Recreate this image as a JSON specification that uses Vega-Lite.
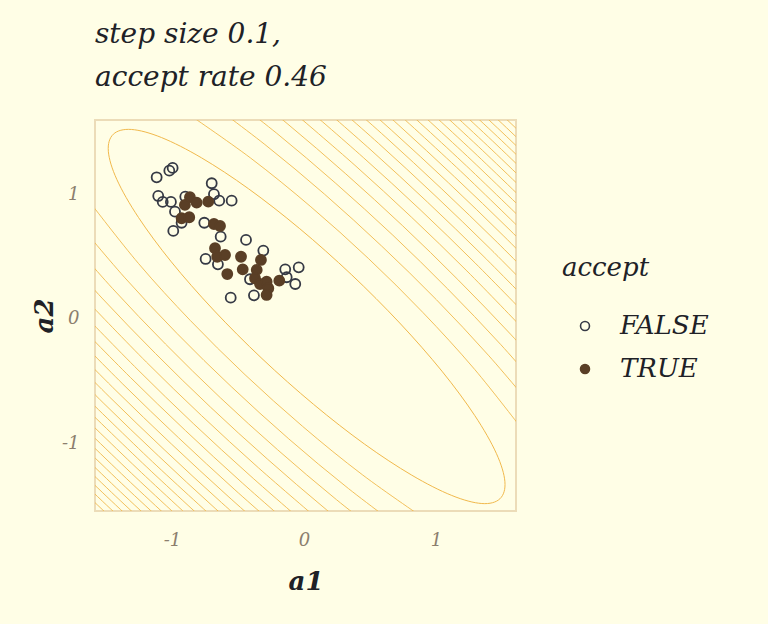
{
  "$schema": "https://vega.github.io/schema/vega-lite/v6.json",
  "autosize": "none",
  "width": 421,
  "height": 391,
  "padding": {"left": 95, "top": 120, "right": 252, "bottom": 113},
  "background": "#fffee6",
  "title": {
    "text": ["step size 0.1,", "accept rate 0.46"],
    "anchor": "start",
    "frame": "group",
    "baseline": "bottom",
    "offset": 0,
    "lineHeight": 43,
    "font": "DejaVu Serif",
    "fontStyle": "italic",
    "fontWeight": "normal",
    "fontSize": 28,
    "color": "#202126"
  },
  "datasets": {
    "contours": [
      {"c":"2u","a1":-0.890,"a2":1.656},{"c":"2u","a1":-0.405,"a2":1.293},{"c":"2u","a1":0.052,"a2":0.901},{"c":"2u","a1":0.487,"a2":0.487},{"c":"2u","a1":0.901,"a2":0.052},{"c":"2u","a1":1.293,"a2":-0.405},{"c":"2u","a1":1.656,"a2":-0.890},
      {"c":"2l","a1":-1.616,"a2":0.930},{"c":"2l","a1":-1.253,"a2":0.445},{"c":"2l","a1":-0.861,"a2":-0.012},{"c":"2l","a1":-0.447,"a2":-0.447},{"c":"2l","a1":-0.012,"a2":-0.861},{"c":"2l","a1":0.445,"a2":-1.253},{"c":"2l","a1":0.930,"a2":-1.616},
      {"c":"3u","a1":-0.767,"a2":1.778},{"c":"3u","a1":-0.296,"a2":1.401},{"c":"3u","a1":0.155,"a2":1.003},{"c":"3u","a1":0.587,"a2":0.587},{"c":"3u","a1":1.003,"a2":0.155},{"c":"3u","a1":1.401,"a2":-0.296},{"c":"3u","a1":1.778,"a2":-0.767},
      {"c":"3l","a1":-1.738,"a2":0.807},{"c":"3l","a1":-1.361,"a2":0.336},{"c":"3l","a1":-0.963,"a2":-0.115},{"c":"3l","a1":-0.547,"a2":-0.547},{"c":"3l","a1":-0.115,"a2":-0.963},{"c":"3l","a1":0.336,"a2":-1.361},{"c":"3l","a1":0.807,"a2":-1.738},
      {"c":"4u","a1":-0.670,"a2":1.875},{"c":"4u","a1":-0.206,"a2":1.491},{"c":"4u","a1":0.241,"a2":1.089},{"c":"4u","a1":0.673,"a2":0.673},{"c":"4u","a1":1.089,"a2":0.241},{"c":"4u","a1":1.491,"a2":-0.206},{"c":"4u","a1":1.875,"a2":-0.670},
      {"c":"4l","a1":-1.835,"a2":0.710},{"c":"4l","a1":-1.451,"a2":0.246},{"c":"4l","a1":-1.049,"a2":-0.201},{"c":"4l","a1":-0.633,"a2":-0.633},{"c":"4l","a1":-0.201,"a2":-1.049},{"c":"4l","a1":0.246,"a2":-1.451},{"c":"4l","a1":0.710,"a2":-1.835},
      {"c":"5u","a1":-0.587,"a2":1.959},{"c":"5u","a1":-0.128,"a2":1.570},{"c":"5u","a1":0.317,"a2":1.165},{"c":"5u","a1":0.748,"a2":0.748},{"c":"5u","a1":1.165,"a2":0.317},{"c":"5u","a1":1.570,"a2":-0.128},{"c":"5u","a1":1.959,"a2":-0.587},
      {"c":"5l","a1":-1.919,"a2":0.627},{"c":"5l","a1":-1.530,"a2":0.168},{"c":"5l","a1":-1.125,"a2":-0.277},{"c":"5l","a1":-0.708,"a2":-0.708},{"c":"5l","a1":-0.277,"a2":-1.125},{"c":"5l","a1":0.168,"a2":-1.530},{"c":"5l","a1":0.627,"a2":-1.919},
      {"c":"6u","a1":-0.057,"a2":1.640},{"c":"6u","a1":0.386,"a2":1.234},{"c":"6u","a1":0.816,"a2":0.816},{"c":"6u","a1":1.234,"a2":0.386},{"c":"6u","a1":1.640,"a2":-0.057},
      {"c":"6l","a1":-1.600,"a2":0.097},{"c":"6l","a1":-1.194,"a2":-0.346},{"c":"6l","a1":-0.776,"a2":-0.776},{"c":"6l","a1":-0.346,"a2":-1.194},{"c":"6l","a1":0.097,"a2":-1.600},
      {"c":"7u","a1":0.008,"a2":1.705},{"c":"7u","a1":0.449,"a2":1.297},{"c":"7u","a1":0.879,"a2":0.879},{"c":"7u","a1":1.297,"a2":0.449},{"c":"7u","a1":1.705,"a2":0.008},
      {"c":"7l","a1":-1.665,"a2":0.032},{"c":"7l","a1":-1.257,"a2":-0.409},{"c":"7l","a1":-0.839,"a2":-0.839},{"c":"7l","a1":-0.409,"a2":-1.257},{"c":"7l","a1":0.032,"a2":-1.665},
      {"c":"8u","a1":0.068,"a2":1.765},{"c":"8u","a1":0.508,"a2":1.356},{"c":"8u","a1":0.937,"a2":0.937},{"c":"8u","a1":1.356,"a2":0.508},{"c":"8u","a1":1.765,"a2":0.068},
      {"c":"8l","a1":-1.725,"a2":-0.028},{"c":"8l","a1":-1.316,"a2":-0.468},{"c":"8l","a1":-0.897,"a2":-0.897},{"c":"8l","a1":-0.468,"a2":-1.316},{"c":"8l","a1":-0.028,"a2":-1.725},
      {"c":"9u","a1":0.124,"a2":1.821},{"c":"9u","a1":0.563,"a2":1.412},{"c":"9u","a1":0.992,"a2":0.992},{"c":"9u","a1":1.412,"a2":0.563},{"c":"9u","a1":1.821,"a2":0.124},
      {"c":"9l","a1":-1.781,"a2":-0.084},{"c":"9l","a1":-1.372,"a2":-0.523},{"c":"9l","a1":-0.952,"a2":-0.952},{"c":"9l","a1":-0.523,"a2":-1.372},{"c":"9l","a1":-0.084,"a2":-1.781},
      {"c":"10u","a1":0.177,"a2":1.874},{"c":"10u","a1":0.615,"a2":1.464},{"c":"10u","a1":1.044,"a2":1.044},{"c":"10u","a1":1.464,"a2":0.615},{"c":"10u","a1":1.874,"a2":0.177},
      {"c":"10l","a1":-1.834,"a2":-0.137},{"c":"10l","a1":-1.424,"a2":-0.575},{"c":"10l","a1":-1.004,"a2":-1.004},{"c":"10l","a1":-0.575,"a2":-1.424},{"c":"10l","a1":-0.137,"a2":-1.834},
      {"c":"11u","a1":0.227,"a2":1.924},{"c":"11u","a1":0.665,"a2":1.514},{"c":"11u","a1":1.094,"a2":1.094},{"c":"11u","a1":1.514,"a2":0.665},{"c":"11u","a1":1.924,"a2":0.227},
      {"c":"11l","a1":-1.884,"a2":-0.187},{"c":"11l","a1":-1.474,"a2":-0.625},{"c":"11l","a1":-1.054,"a2":-1.054},{"c":"11l","a1":-0.625,"a2":-1.474},{"c":"11l","a1":-0.187,"a2":-1.884},
      {"c":"12u","a1":0.275,"a2":1.972},{"c":"12u","a1":0.713,"a2":1.561},{"c":"12u","a1":1.141,"a2":1.141},{"c":"12u","a1":1.561,"a2":0.713},{"c":"12u","a1":1.972,"a2":0.275},
      {"c":"12l","a1":-1.932,"a2":-0.235},{"c":"12l","a1":-1.521,"a2":-0.673},{"c":"12l","a1":-1.101,"a2":-1.101},{"c":"12l","a1":-0.673,"a2":-1.521},{"c":"12l","a1":-0.235,"a2":-1.932},
      {"c":"13u","a1":0.686,"a2":1.676},{"c":"13u","a1":1.187,"a2":1.187},{"c":"13u","a1":1.676,"a2":0.686},
      {"c":"13l","a1":-1.636,"a2":-0.646},{"c":"13l","a1":-1.147,"a2":-1.147},{"c":"13l","a1":-0.646,"a2":-1.636},
      {"c":"14u","a1":0.730,"a2":1.720},{"c":"14u","a1":1.230,"a2":1.230},{"c":"14u","a1":1.720,"a2":0.730},
      {"c":"14l","a1":-1.680,"a2":-0.690},{"c":"14l","a1":-1.190,"a2":-1.190},{"c":"14l","a1":-0.690,"a2":-1.680},
      {"c":"15u","a1":0.772,"a2":1.762},{"c":"15u","a1":1.272,"a2":1.272},{"c":"15u","a1":1.762,"a2":0.772},
      {"c":"15l","a1":-1.722,"a2":-0.732},{"c":"15l","a1":-1.232,"a2":-1.232},{"c":"15l","a1":-0.732,"a2":-1.722},
      {"c":"16u","a1":0.813,"a2":1.803},{"c":"16u","a1":1.313,"a2":1.313},{"c":"16u","a1":1.803,"a2":0.813},
      {"c":"16l","a1":-1.763,"a2":-0.773},{"c":"16l","a1":-1.273,"a2":-1.273},{"c":"16l","a1":-0.773,"a2":-1.763},
      {"c":"17u","a1":0.853,"a2":1.843},{"c":"17u","a1":1.353,"a2":1.353},{"c":"17u","a1":1.843,"a2":0.853},
      {"c":"17l","a1":-1.803,"a2":-0.813},{"c":"17l","a1":-1.313,"a2":-1.313},{"c":"17l","a1":-0.813,"a2":-1.803},
      {"c":"18u","a1":0.891,"a2":1.881},{"c":"18u","a1":1.391,"a2":1.391},{"c":"18u","a1":1.881,"a2":0.891},
      {"c":"18l","a1":-1.841,"a2":-0.851},{"c":"18l","a1":-1.351,"a2":-1.351},{"c":"18l","a1":-0.851,"a2":-1.841},
      {"c":"19u","a1":0.929,"a2":1.919},{"c":"19u","a1":1.429,"a2":1.429},{"c":"19u","a1":1.919,"a2":0.929},
      {"c":"19l","a1":-1.879,"a2":-0.889},{"c":"19l","a1":-1.389,"a2":-1.389},{"c":"19l","a1":-0.889,"a2":-1.879},
      {"c":"20u","a1":0.965,"a2":1.955},{"c":"20u","a1":1.465,"a2":1.465},{"c":"20u","a1":1.955,"a2":0.965},
      {"c":"20l","a1":-1.915,"a2":-0.925},{"c":"20l","a1":-1.425,"a2":-1.425},{"c":"20l","a1":-0.925,"a2":-1.915},
      {"c":"21u","a1":1.001,"a2":1.991},{"c":"21u","a1":1.500,"a2":1.500},{"c":"21u","a1":1.991,"a2":1.001},
      {"c":"21l","a1":-1.951,"a2":-0.961},{"c":"21l","a1":-1.460,"a2":-1.460},{"c":"21l","a1":-0.961,"a2":-1.951},
      {"c":"22u","a1":1.036,"a2":2.026},{"c":"22u","a1":1.535,"a2":1.535},{"c":"22u","a1":2.026,"a2":1.036},
      {"c":"22l","a1":-1.986,"a2":-0.996},{"c":"22l","a1":-1.495,"a2":-1.495},{"c":"22l","a1":-0.996,"a2":-1.986},
      {"c":"23u","a1":1.070,"a2":2.060},{"c":"23u","a1":1.569,"a2":1.569},{"c":"23u","a1":2.060,"a2":1.070},
      {"c":"23l","a1":-2.020,"a2":-1.030},{"c":"23l","a1":-1.529,"a2":-1.529},{"c":"23l","a1":-1.030,"a2":-2.020}
    ],
    "ellipse": [
      {"i":0,"a1":1.484,"a2":-1.444},{"i":1,"a1":1.522,"a2":-1.307},{"i":2,"a1":1.457,"a2":-1.079},{"i":3,"a1":1.294,"a2":-0.776},
      {"i":4,"a1":1.045,"a2":-0.419},{"i":5,"a1":0.725,"a2":-0.032},{"i":6,"a1":0.358,"a2":0.358},{"i":7,"a1":-0.032,"a2":0.725},
      {"i":8,"a1":-0.419,"a2":1.045},{"i":9,"a1":-0.776,"a2":1.294},{"i":10,"a1":-1.079,"a2":1.457},{"i":11,"a1":-1.307,"a2":1.522},
      {"i":12,"a1":-1.444,"a2":1.484},{"i":13,"a1":-1.482,"a2":1.347},{"i":14,"a1":-1.417,"a2":1.119},{"i":15,"a1":-1.254,"a2":0.816},
      {"i":16,"a1":-1.005,"a2":0.459},{"i":17,"a1":-0.685,"a2":0.072},{"i":18,"a1":-0.318,"a2":-0.318},{"i":19,"a1":0.072,"a2":-0.685},
      {"i":20,"a1":0.459,"a2":-1.005},{"i":21,"a1":0.816,"a2":-1.254},{"i":22,"a1":1.119,"a2":-1.417},{"i":23,"a1":1.347,"a2":-1.482}
    ],
    "points": [
      {"a1":-1.116,"a2":1.138,"accept":"FALSE"},{"a1":-1.020,"a2":1.191,"accept":"FALSE"},{"a1":-0.995,"a2":1.213,"accept":"FALSE"},
      {"a1":-0.699,"a2":1.090,"accept":"FALSE"},{"a1":-1.104,"a2":0.988,"accept":"FALSE"},{"a1":-1.070,"a2":0.940,"accept":"FALSE"},
      {"a1":-1.008,"a2":0.940,"accept":"FALSE"},{"a1":-0.899,"a2":0.982,"accept":"FALSE"},{"a1":-0.682,"a2":1.002,"accept":"FALSE"},
      {"a1":-0.642,"a2":0.950,"accept":"FALSE"},{"a1":-0.548,"a2":0.950,"accept":"FALSE"},{"a1":-0.977,"a2":0.862,"accept":"FALSE"},
      {"a1":-0.927,"a2":0.773,"accept":"FALSE"},{"a1":-0.990,"a2":0.707,"accept":"FALSE"},{"a1":-0.755,"a2":0.773,"accept":"FALSE"},
      {"a1":-0.631,"a2":0.661,"accept":"FALSE"},{"a1":-0.439,"a2":0.635,"accept":"FALSE"},{"a1":-0.308,"a2":0.549,"accept":"FALSE"},
      {"a1":-0.745,"a2":0.482,"accept":"FALSE"},{"a1":-0.652,"a2":0.439,"accept":"FALSE"},{"a1":-0.409,"a2":0.319,"accept":"FALSE"},
      {"a1":-0.142,"a2":0.399,"accept":"FALSE"},{"a1":-0.040,"a2":0.415,"accept":"FALSE"},{"a1":-0.131,"a2":0.335,"accept":"FALSE"},
      {"a1":-0.066,"a2":0.281,"accept":"FALSE"},{"a1":-0.555,"a2":0.171,"accept":"FALSE"},{"a1":-0.379,"a2":0.190,"accept":"FALSE"},
      {"a1":-0.864,"a2":0.978,"accept":"TRUE"},{"a1":-0.902,"a2":0.916,"accept":"TRUE"},{"a1":-0.813,"a2":0.934,"accept":"TRUE"},
      {"a1":-0.725,"a2":0.942,"accept":"TRUE"},{"a1":-0.927,"a2":0.809,"accept":"TRUE"},{"a1":-0.869,"a2":0.817,"accept":"TRUE"},
      {"a1":-0.682,"a2":0.763,"accept":"TRUE"},{"a1":-0.636,"a2":0.747,"accept":"TRUE"},{"a1":-0.674,"a2":0.568,"accept":"TRUE"},
      {"a1":-0.657,"a2":0.500,"accept":"TRUE"},{"a1":-0.598,"a2":0.514,"accept":"TRUE"},{"a1":-0.477,"a2":0.500,"accept":"TRUE"},
      {"a1":-0.581,"a2":0.361,"accept":"TRUE"},{"a1":-0.464,"a2":0.399,"accept":"TRUE"},{"a1":-0.326,"a2":0.474,"accept":"TRUE"},
      {"a1":-0.358,"a2":0.394,"accept":"TRUE"},{"a1":-0.371,"a2":0.327,"accept":"TRUE"},{"a1":-0.333,"a2":0.281,"accept":"TRUE"},
      {"a1":-0.283,"a2":0.300,"accept":"TRUE"},{"a1":-0.270,"a2":0.247,"accept":"TRUE"},{"a1":-0.283,"a2":0.193,"accept":"TRUE"},
      {"a1":-0.187,"a2":0.308,"accept":"TRUE"}
    ]
  },
  "encoding": {
    "x": {
      "field": "a1", "type": "quantitative",
      "scale": {"domain": [-1.583, 1.606], "nice": false, "zero": false},
      "axis": {"values": [-1, 0, 1], "labelExpr": "datum.value < 0 ? '-' + abs(datum.value) : '' + datum.value", "title": "a1", "grid": false, "domain": false, "ticks": false, "tickSize": 0,
        "labelFont": "DejaVu Serif", "labelFontStyle": "italic", "labelFontSize": 18, "labelColor": "#8c7e6e", "labelPadding": 20,
        "titleFont": "DejaVu Serif", "titleFontStyle": "italic", "titleFontWeight": "bold", "titleFontSize": 26, "titleColor": "#202126", "titlePadding": 19}
    },
    "y": {
      "field": "a2", "type": "quantitative",
      "scale": {"domain": [-1.542, 1.598], "nice": false, "zero": false},
      "axis": {"values": [-1, 0, 1], "labelExpr": "datum.value < 0 ? '-' + abs(datum.value) : '' + datum.value", "title": "a2", "grid": false, "domain": false, "ticks": false, "tickSize": 0,
        "labelFont": "DejaVu Serif", "labelFontStyle": "italic", "labelFontSize": 18, "labelColor": "#8c7e6e", "labelPadding": 16,
        "titleFont": "DejaVu Serif", "titleFontStyle": "italic", "titleFontWeight": "bold", "titleFontSize": 26, "titleColor": "#202126", "titlePadding": 4}
    }
  },
  "layer": [
    {
      "data": {"name": "contours"},
      "mark": {"type": "line", "clip": true, "color": "#f1b94c", "strokeWidth": 0.9, "interpolate": "cardinal"},
      "encoding": {"detail": {"field": "c", "type": "nominal"}}
    },
    {
      "data": {"name": "ellipse"},
      "mark": {"type": "line", "clip": true, "color": "#f1b94c", "strokeWidth": 1, "interpolate": "cardinal-closed"},
      "encoding": {"order": {"field": "i", "type": "quantitative"}}
    },
    {
      "data": {"name": "points"},
      "mark": {"type": "point", "shape": "circle", "size": 100, "strokeWidth": 1.8, "opacity": 1},
      "encoding": {
        "fill": {"field": "accept", "type": "nominal",
          "scale": {"domain": ["FALSE", "TRUE"], "range": ["transparent", "#5a3f26"]},
          "legend": {"title": "accept", "orient": "none", "legendX": 467, "legendY": 135}},
        "stroke": {"field": "accept", "type": "nominal",
          "scale": {"domain": ["FALSE", "TRUE"], "range": ["#363a45", "#5a3f26"]},
          "legend": {"title": "accept", "orient": "none", "legendX": 467, "legendY": 135}}
      }
    }
  ],
  "config": {
    "view": {"stroke": "#ecdcb8", "strokeWidth": 2, "fill": "#fffee6"},
    "legend": {
      "titleFont": "DejaVu Serif", "titleFontStyle": "italic", "titleFontWeight": "normal", "titleFontSize": 26, "titleColor": "#202126", "titlePadding": 32,
      "labelFont": "DejaVu Serif", "labelFontStyle": "italic", "labelFontSize": 26, "labelColor": "#202126", "labelOffset": 22,
      "symbolSize": 80, "symbolStrokeWidth": 1.6, "symbolOffset": 10, "rowPadding": 17
    }
  }
}
